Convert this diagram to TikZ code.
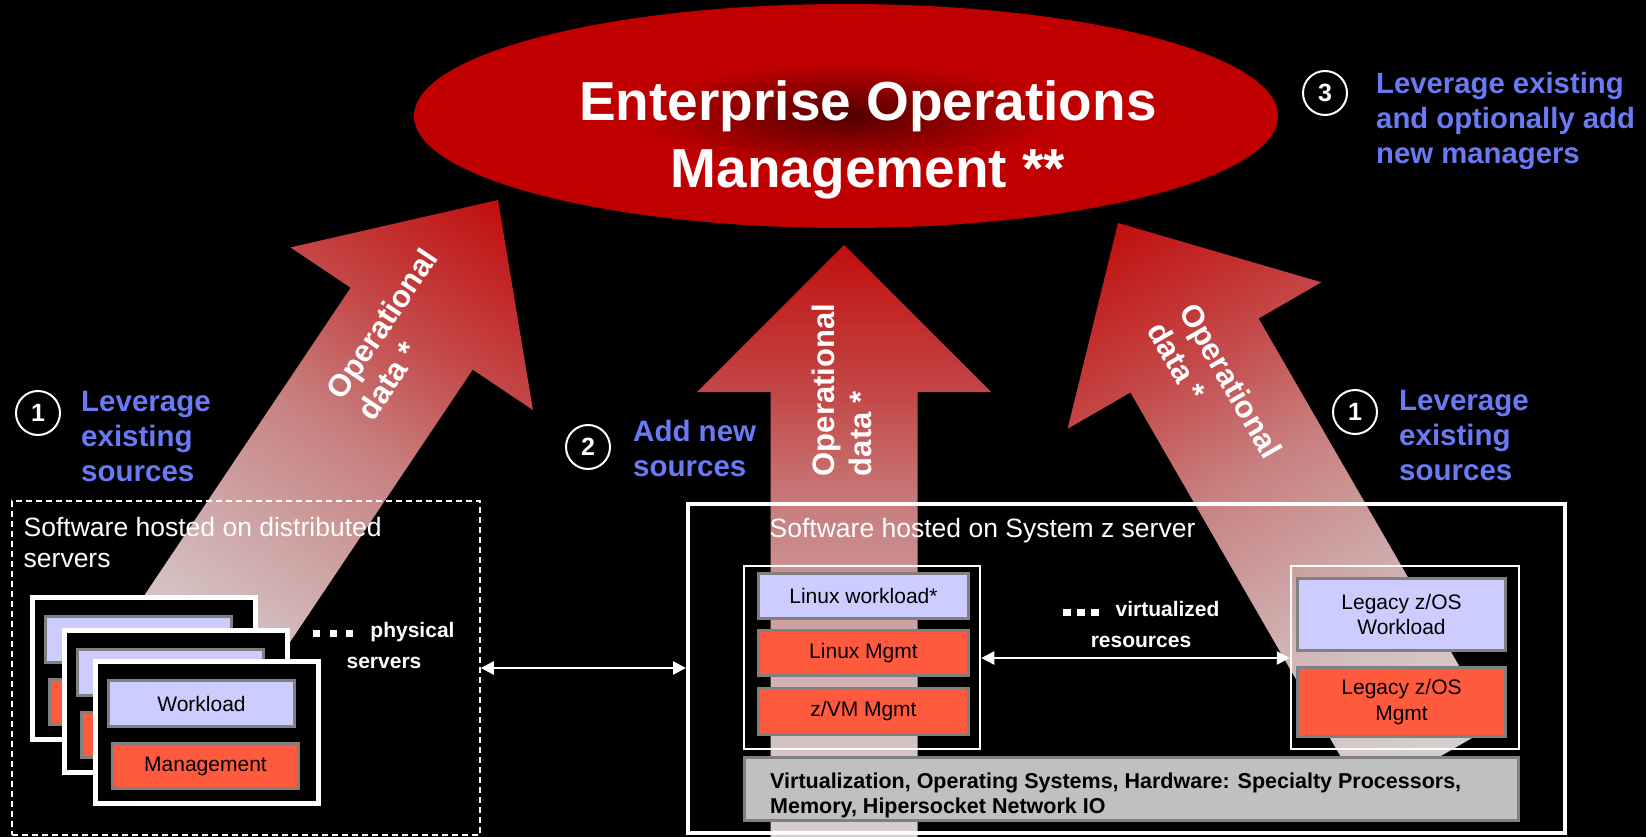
\documentclass[tikz,border=0pt]{standalone}
\usepackage{fontspec}
\setmainfont{Liberation Sans}
\usetikzlibrary{arrows.meta,shapes.geometric}
\definecolor{lav}{RGB}{204,204,255}
\definecolor{redbox}{RGB}{255,90,62}
\definecolor{boxgray}{RGB}{128,128,128}
\definecolor{barfill}{RGB}{192,192,192}
\definecolor{bluet}{RGB}{106,122,245}
\definecolor{arrowA}{RGB}{193,14,14}
\definecolor{arrowB}{RGB}{196,72,72}
\definecolor{arrowC}{RGB}{200,128,128}
\definecolor{arrowD}{RGB}{211,192,192}
\definecolor{arrowE}{RGB}{214,207,207}
\definecolor{eomA}{RGB}{80,0,0}
\definecolor{eomB}{RGB}{120,0,0}
\definecolor{eomC}{RGB}{192,0,0}
\pgfdeclareverticalshading{arrowshade}{100bp}{color(0bp)=(arrowE); color(25bp)=(arrowE); color(35bp)=(arrowD); color(52.5bp)=(arrowC); color(62.5bp)=(arrowB); color(75bp)=(arrowA); color(100bp)=(arrowA)}
\pgfdeclareradialshading{eomshade}{\pgfpointorigin}{color(0bp)=(eomA); color(4bp)=(eomB); color(12bp)=(eomC); color(25bp)=(eomC); color(50bp)=(eomC)}
\begin{document}
\begin{tikzpicture}[x=1pt,y=-1pt,
  srv/.style={draw=white, line width=5pt, fill=black, minimum width=223pt, minimum height=142pt, inner sep=0pt},
  wl/.style={draw=boxgray, line width=3pt, fill=lav, inner sep=0pt, align=center, font=\fontsize{21}{25.5}\selectfont},
  mg/.style={draw=boxgray, line width=3pt, fill=redbox, inner sep=0pt, align=center, font=\fontsize{21}{25.5}\selectfont},
  grp/.style={draw=white, line width=2.5pt, inner sep=0pt},
  circ/.style={circle, draw=white, line width=2pt, fill=black, text=white, minimum size=44pt, inner sep=0pt, font=\fontsize{25}{25}\selectfont\bfseries},
  bluetxt/.style={text=bluet, font=\fontsize{29.5}{35}\selectfont\bfseries, align=left, inner sep=0pt, anchor=north west},
  opdata/.style={text=white, font=\fontsize{31}{37}\selectfont\bfseries, align=left, inner sep=0pt},
  wtxt/.style={text=white, font=\fontsize{26.5}{31}\selectfont, align=left, inner sep=0pt},
  smallb/.style={text=white, font=\fontsize{21}{31}\selectfont\bfseries, align=center, inner sep=0pt, anchor=north},
  dbl/.style={white, line width=2.5pt, {Triangle[length=13pt,width=13pt]}-{Triangle[length=13pt,width=13pt]}},
  shaft/.style={shade, shading=arrowshade}
]
\path[use as bounding box, fill=black] (0,0) rectangle (1646,837);

% top ellipse
\node[ellipse, shade, shading=eomshade, minimum width=864pt, minimum height=224pt, inner sep=0pt] (eom) at (846,116) {};
\node[text=white, font=\fontsize{55}{67}\selectfont\bfseries, align=center, inner sep=0pt, anchor=north] (eomt) at (868,80) {Enterprise Operations\\Management **};

% big arrows
\begin{scope}[transform canvas={shift={(498,200)},rotate=-33.85}]
  \path[shaft] (0,0) -- (146,155) -- (73.5,155) -- (73.5,627) -- (-73.5,627) -- (-73.5,155) -- (-146,155) -- cycle;
\end{scope}
\begin{scope}[transform canvas={shift={(844,245)}}]
  \path[shaft] (0,0) -- (147,147) -- (73.5,147) -- (73.5,600) -- (-73.5,600) -- (-73.5,147) -- (-147,147) -- cycle;
\end{scope}
\begin{scope}[transform canvas={shift={(1118,223)},rotate=30}]
  \path[shaft] (0,0) -- (146.5,153) -- (74,153) -- (74,623) -- (-74,623) -- (-74,153) -- (-146.5,153) -- cycle;
\end{scope}

\node[opdata, rotate=56.15] (opl) at (397,334) {Operational\\data *};
\node[opdata, rotate=90] (opm) at (842,390) {Operational\\data *};
\node[opdata, rotate=-60] (opr) at (1215,390) {Operational\\data *};

% circles and blue labels
\node[circ] (c1l) at (38,413) {1};
\node[bluetxt] (t1l) at (81,391) {Leverage\\existing\\sources};
\node[circ] (c2) at (588,447) {2};
\node[bluetxt] (t2) at (633,420) {Add new\\sources};
\node[circ] (c1r) at (1355,412) {1};
\node[bluetxt] (t1r) at (1399,390) {Leverage\\existing\\sources};
\node[circ] (c3) at (1325,93) {3};
\node[bluetxt, font=\fontsize{29.3}{34.8}\selectfont\bfseries] (t3) at (1376,72) {Leverage existing\\and optionally add\\new managers};

% distributed servers
\node[draw=white, line width=1.5pt, dash pattern=on 6pt off 4pt, minimum width=468pt, minimum height=334pt, inner sep=0pt] (dist) at (246,668) {};
\node[wtxt, anchor=north west] (distt) at (23.5,517.5) {Software hosted on distributed\\servers};

\node[srv] (sA) at (144,668.5) {};
\node[wl, minimum width=186pt, minimum height=46pt] (wA) at (138.5,639.5) {};
\node[mg, minimum width=186pt, minimum height=45pt] (mA) at (142.5,702) {};
\node[srv] (sB) at (176,701.5) {};
\node[wl, minimum width=186pt, minimum height=46pt] (wB) at (170.5,672.5) {};
\node[mg, minimum width=186pt, minimum height=45pt] (mB) at (174.5,735) {};
\node[srv] (sC) at (207,732.5) {};
\node[wl, minimum width=186pt, minimum height=46pt] (wC) at (201.5,703.5) {Workload};
\node[mg, minimum width=186pt, minimum height=45pt] (mC) at (205.5,766) {Management};

\node[smallb] (phys) at (384,622) {\rule{7pt}{7pt}\hspace{9.5pt}\rule{7pt}{7pt}\hspace{9.5pt}\rule{7pt}{7pt}\hspace{17pt}physical\\servers};

% System z server
\node[draw=white, line width=4pt, minimum width=877pt, minimum height=329pt, inner sep=0pt] (sysz) at (1126.5,668.5) {};
\node[wtxt, anchor=base west] (szt) at (769.5,537) {Software hosted on System z server};

\node[grp, minimum width=236pt, minimum height=183pt] (lgrp) at (862,657.5) {};
\node[wl, minimum width=210pt, minimum height=45pt] (lw) at (863.5,596) {Linux workload*};
\node[mg, minimum width=210pt, minimum height=45pt] (lm) at (863.5,653) {Linux Mgmt};
\node[mg, minimum width=210pt, minimum height=46pt] (zm) at (863.5,711.5) {z/VM Mgmt};

\node[grp, minimum width=228pt, minimum height=183pt] (zgrp) at (1405,657.5) {};
\node[wl, minimum width=208pt, minimum height=72pt] (zw) at (1401.5,614.5) {Legacy z/OS\\Workload};
\node[mg, minimum width=208pt, minimum height=69pt] (zmg) at (1401.5,702) {Legacy z/OS\\Mgmt};

\node[smallb] (virt) at (1141,601) {\rule{8pt}{7pt}\hspace{6pt}\rule{8pt}{7pt}\hspace{6pt}\rule{8pt}{7pt}\hspace{17pt}virtualized\\resources};

\node[draw=boxgray, line width=3pt, fill=barfill, minimum width=774pt, minimum height=63pt, inner sep=0pt] (hw) at (1131.5,789) {};
\node[font=\fontsize{21.5}{25}\selectfont\bfseries, align=left, inner sep=0pt, anchor=north west] (hwt) at (770,773) {Virtualization, Operating Systems, Hardware: Specialty Processors,\\Memory, Hipersocket Network IO};

% connectors
\coordinate (yl) at (0,668);
\coordinate (yv) at (0,658);
\draw[dbl] (dist.east |- yl) -- (sysz.west |- yl);
\draw[dbl] (lgrp.east |- yv) -- (zgrp.west |- yv);
\end{tikzpicture}
\end{document}
